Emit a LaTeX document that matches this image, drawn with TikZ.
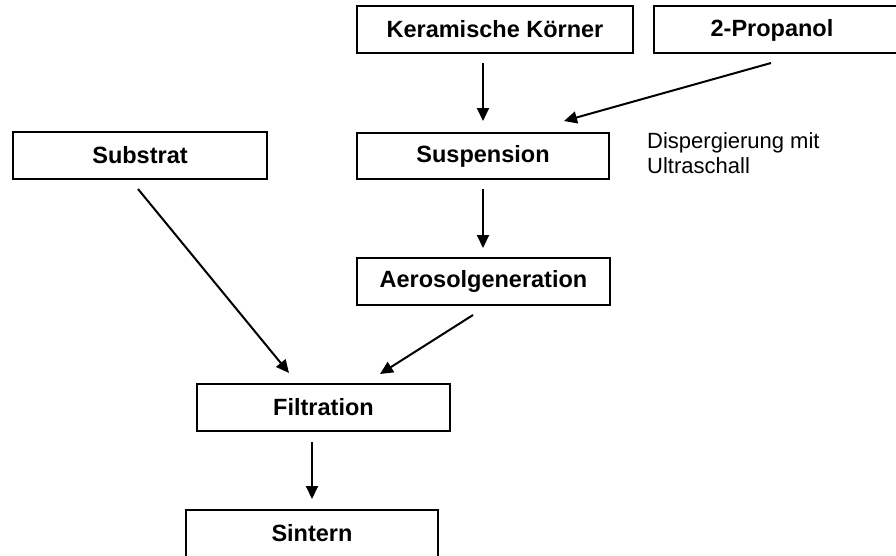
\documentclass[tikz,border=0pt]{standalone}
\usepackage{fontspec}
\setmainfont{Liberation Sans}
\usetikzlibrary{arrows.meta}
\begin{document}
\begin{tikzpicture}[x=1pt,y=-1pt,
  lbl/.style={font=\fontsize{23.5}{27}\selectfont\bfseries},
  box/.style={draw=black,line width=2pt,rectangle,inner sep=0pt,minimum height=47pt,lbl},
  conn/.style={line width=2pt,-{Triangle[length=13pt,width=12pt]}},
  note/.style={font=\fontsize{22}{25}\selectfont,align=left,anchor=north west,inner sep=0pt}]
\useasboundingbox (0,0) rectangle (896,555);
\node[box,minimum width=276pt] (km) at (495,29.5) {Keramische Körner};
\node[box,minimum width=246pt,label={[xshift=-5pt,yshift=-1pt,lbl]center:2-Propanol}] (prop) at (777,29.5) {};
\node[box,minimum width=254pt] (sub) at (140,155.5) {Substrat};
\node[box,minimum width=252pt,minimum height=46pt] (sus) at (483,156) {Suspension};
\node[box,minimum width=253pt] (aer) at (483.5,281.5) {Aerosolgeneration};
\node[box,minimum width=253pt] (fil) at (323.5,407.5) {Filtration};
\node[box,minimum width=252pt] (sin) at (312,533.5) {Sintern};
\node[note] (disp) at (647,132.5) {Dispergierung mit\\Ultraschall};
\coordinate (kmA) at (483,63);
\coordinate (kmB) at (483,121);
\coordinate (prA) at (771,63);
\coordinate (prB) at (564,121);
\coordinate (suA) at (483,189);
\coordinate (suB) at (483,248);
\coordinate (sbA) at (138,189);
\coordinate (sbB) at (289,373);
\coordinate (aeA) at (473,315);
\coordinate (aeB) at (380,374);
\coordinate (fiA) at (312,442);
\coordinate (fiB) at (312,499);
\draw[conn] (kmA) -- (kmB);
\draw[conn] (prA) -- (prB);
\draw[conn] (suA) -- (suB);
\draw[conn] (sbA) -- (sbB);
\draw[conn] (aeA) -- (aeB);
\draw[conn] (fiA) -- (fiB);
\end{tikzpicture}
\end{document}
